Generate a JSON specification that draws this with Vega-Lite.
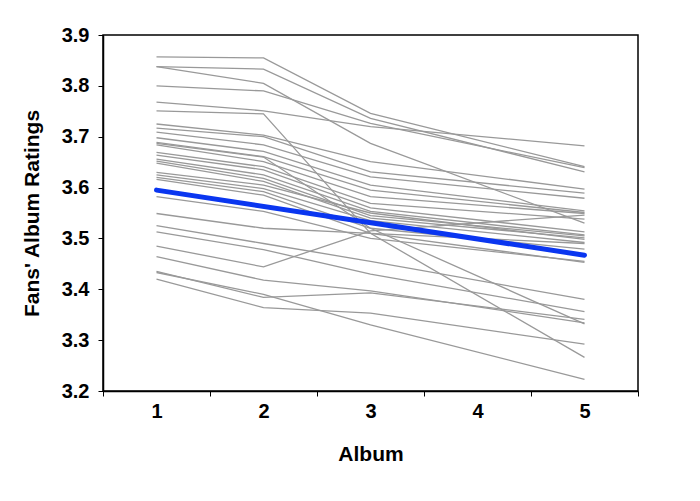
{
  "$schema": "https://vega.github.io/schema/vega-lite/v6.json",
  "width": 535,
  "height": 356,
  "autosize": {"type": "none"},
  "padding": {"left": 103, "top": 35, "right": 62, "bottom": 110},
  "background": "white",
  "config": {
    "view": {"stroke": "#000000", "strokeWidth": 1.5},
    "font": "Liberation Sans",
    "axis": {
      "domainColor": "#000000",
      "domainWidth": 1.5,
      "tickColor": "#000000",
      "tickWidth": 1,
      "tickSize": 5,
      "grid": false,
      "labelColor": "#000000",
      "titleColor": "#000000"
    }
  },
  "datasets": {
    "fans": [
      {"fan": 1, "album": 1, "rating": 3.857}, {"fan": 1, "album": 2, "rating": 3.855}, {"fan": 1, "album": 3, "rating": 3.746}, {"fan": 1, "album": 5, "rating": 3.641},
      {"fan": 2, "album": 1, "rating": 3.838}, {"fan": 2, "album": 2, "rating": 3.833}, {"fan": 2, "album": 3, "rating": 3.736}, {"fan": 2, "album": 5, "rating": 3.631},
      {"fan": 3, "album": 1, "rating": 3.838}, {"fan": 3, "album": 2, "rating": 3.805}, {"fan": 3, "album": 3, "rating": 3.687}, {"fan": 3, "album": 5, "rating": 3.530},
      {"fan": 4, "album": 1, "rating": 3.800}, {"fan": 4, "album": 2, "rating": 3.790}, {"fan": 4, "album": 3, "rating": 3.726}, {"fan": 4, "album": 5, "rating": 3.639},
      {"fan": 5, "album": 1, "rating": 3.768}, {"fan": 5, "album": 2, "rating": 3.751}, {"fan": 5, "album": 3, "rating": 3.720}, {"fan": 5, "album": 5, "rating": 3.682},
      {"fan": 6, "album": 1, "rating": 3.751}, {"fan": 6, "album": 2, "rating": 3.745}, {"fan": 6, "album": 3, "rating": 3.510}, {"fan": 6, "album": 5, "rating": 3.266},
      {"fan": 7, "album": 1, "rating": 3.725}, {"fan": 7, "album": 2, "rating": 3.703}, {"fan": 7, "album": 3, "rating": 3.651}, {"fan": 7, "album": 5, "rating": 3.597},
      {"fan": 8, "album": 1, "rating": 3.717}, {"fan": 8, "album": 2, "rating": 3.700}, {"fan": 8, "album": 3, "rating": 3.631}, {"fan": 8, "album": 5, "rating": 3.589},
      {"fan": 9, "album": 1, "rating": 3.709}, {"fan": 9, "album": 2, "rating": 3.684}, {"fan": 9, "album": 3, "rating": 3.621}, {"fan": 9, "album": 5, "rating": 3.579},
      {"fan": 10, "album": 1, "rating": 3.698}, {"fan": 10, "album": 2, "rating": 3.671}, {"fan": 10, "album": 3, "rating": 3.605}, {"fan": 10, "album": 5, "rating": 3.554},
      {"fan": 11, "album": 1, "rating": 3.689}, {"fan": 11, "album": 2, "rating": 3.661}, {"fan": 11, "album": 3, "rating": 3.595}, {"fan": 11, "album": 5, "rating": 3.551},
      {"fan": 12, "album": 1, "rating": 3.687}, {"fan": 12, "album": 2, "rating": 3.660}, {"fan": 12, "album": 3, "rating": 3.520}, {"fan": 12, "album": 5, "rating": 3.332},
      {"fan": 13, "album": 1, "rating": 3.684}, {"fan": 13, "album": 2, "rating": 3.651}, {"fan": 13, "album": 3, "rating": 3.582}, {"fan": 13, "album": 5, "rating": 3.549},
      {"fan": 14, "album": 1, "rating": 3.669}, {"fan": 14, "album": 2, "rating": 3.641}, {"fan": 14, "album": 3, "rating": 3.569}, {"fan": 14, "album": 5, "rating": 3.538},
      {"fan": 15, "album": 1, "rating": 3.664}, {"fan": 15, "album": 2, "rating": 3.635}, {"fan": 15, "album": 3, "rating": 3.560}, {"fan": 15, "album": 5, "rating": 3.513},
      {"fan": 16, "album": 1, "rating": 3.656}, {"fan": 16, "album": 2, "rating": 3.625}, {"fan": 16, "album": 3, "rating": 3.553}, {"fan": 16, "album": 5, "rating": 3.507},
      {"fan": 17, "album": 1, "rating": 3.652}, {"fan": 17, "album": 2, "rating": 3.618}, {"fan": 17, "album": 3, "rating": 3.545}, {"fan": 17, "album": 5, "rating": 3.505},
      {"fan": 18, "album": 1, "rating": 3.648}, {"fan": 18, "album": 2, "rating": 3.612}, {"fan": 18, "album": 3, "rating": 3.540}, {"fan": 18, "album": 5, "rating": 3.501},
      {"fan": 19, "album": 1, "rating": 3.630}, {"fan": 19, "album": 2, "rating": 3.605}, {"fan": 19, "album": 3, "rating": 3.550}, {"fan": 19, "album": 5, "rating": 3.498},
      {"fan": 20, "album": 1, "rating": 3.625}, {"fan": 20, "album": 2, "rating": 3.598}, {"fan": 20, "album": 3, "rating": 3.535}, {"fan": 20, "album": 5, "rating": 3.492},
      {"fan": 21, "album": 1, "rating": 3.620}, {"fan": 21, "album": 2, "rating": 3.592}, {"fan": 21, "album": 3, "rating": 3.520}, {"fan": 21, "album": 5, "rating": 3.479},
      {"fan": 22, "album": 1, "rating": 3.616}, {"fan": 22, "album": 2, "rating": 3.585}, {"fan": 22, "album": 3, "rating": 3.510}, {"fan": 22, "album": 5, "rating": 3.453},
      {"fan": 23, "album": 1, "rating": 3.582}, {"fan": 23, "album": 2, "rating": 3.553}, {"fan": 23, "album": 3, "rating": 3.500}, {"fan": 23, "album": 5, "rating": 3.455},
      {"fan": 24, "album": 1, "rating": 3.549}, {"fan": 24, "album": 2, "rating": 3.520}, {"fan": 24, "album": 3, "rating": 3.510}, {"fan": 24, "album": 5, "rating": 3.490},
      {"fan": 25, "album": 1, "rating": 3.525}, {"fan": 25, "album": 2, "rating": 3.490}, {"fan": 25, "album": 3, "rating": 3.455}, {"fan": 25, "album": 5, "rating": 3.380},
      {"fan": 26, "album": 1, "rating": 3.513}, {"fan": 26, "album": 2, "rating": 3.478}, {"fan": 26, "album": 3, "rating": 3.430}, {"fan": 26, "album": 5, "rating": 3.356},
      {"fan": 27, "album": 1, "rating": 3.485}, {"fan": 27, "album": 2, "rating": 3.444}, {"fan": 27, "album": 3, "rating": 3.515}, {"fan": 27, "album": 5, "rating": 3.546},
      {"fan": 28, "album": 1, "rating": 3.464}, {"fan": 28, "album": 2, "rating": 3.418}, {"fan": 28, "album": 3, "rating": 3.397}, {"fan": 28, "album": 5, "rating": 3.334},
      {"fan": 29, "album": 1, "rating": 3.435}, {"fan": 29, "album": 2, "rating": 3.384}, {"fan": 29, "album": 3, "rating": 3.393}, {"fan": 29, "album": 5, "rating": 3.341},
      {"fan": 30, "album": 1, "rating": 3.433}, {"fan": 30, "album": 2, "rating": 3.390}, {"fan": 30, "album": 3, "rating": 3.330}, {"fan": 30, "album": 5, "rating": 3.223},
      {"fan": 31, "album": 1, "rating": 3.420}, {"fan": 31, "album": 2, "rating": 3.364}, {"fan": 31, "album": 3, "rating": 3.353}, {"fan": 31, "album": 5, "rating": 3.292}
    ],
    "average": [
      {"album": 1, "rating": 3.595},
      {"album": 5, "rating": 3.467}
    ]
  },
  "encoding": {
    "x": {
      "field": "album",
      "type": "ordinal",
      "bandPosition": 0.5,
      "scale": {"type": "band", "domain": [1, 2, 3, 4, 5], "paddingInner": 0, "paddingOuter": 0},
      "axis": {
        "title": "Album", "labelAngle": 0, "tickBand": "extent",
        "labelFont": "Liberation Sans", "labelFontSize": 20, "labelFontWeight": "bold",
        "titleFont": "Liberation Sans", "titleFontSize": 21, "titleFontWeight": "bold",
        "labelPadding": 5, "titlePadding": 22
      }
    },
    "y": {
      "field": "rating",
      "type": "quantitative",
      "scale": {"domain": [3.2, 3.9], "nice": false, "zero": false},
      "axis": {
        "title": "Fans' Album Ratings", "values": [3.2, 3.3, 3.4, 3.5, 3.6, 3.7, 3.8, 3.9], "format": ".1f",
        "labelFont": "Liberation Sans", "labelFontSize": 20, "labelFontWeight": "bold",
        "titleFont": "Liberation Sans", "titleFontSize": 21, "titleFontWeight": "bold",
        "labelPadding": 9, "titlePadding": 19
      }
    }
  },
  "layer": [
    {
      "data": {"name": "fans"},
      "mark": {"type": "line", "color": "#999999", "strokeWidth": 1.3},
      "encoding": {"detail": {"field": "fan", "type": "nominal"}}
    },
    {
      "data": {"name": "average"},
      "mark": {"type": "line", "color": "#0a36f0", "strokeWidth": 5, "strokeCap": "round"},
      "encoding": {}
    }
  ]
}
